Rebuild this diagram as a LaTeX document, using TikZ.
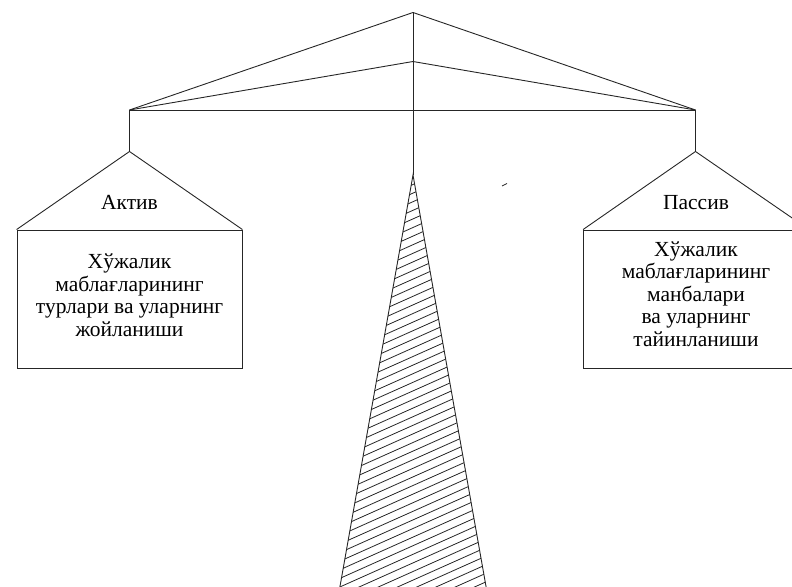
\documentclass[tikz,border=0pt]{standalone}
\usepackage{fontspec}
\setmainfont{Liberation Serif}
\begin{document}
\begin{tikzpicture}[x=1pt,y=-1pt,
  wire/.style={draw=black!85,line width=0.9pt},
  hatch/.style={draw=black!85,line width=0.8pt},
  boxnode/.style={wire,rectangle,minimum width=225pt,minimum height=138pt,inner sep=0pt,
    align=center,font=\fontsize{21.5}{22.5}\selectfont},
  txt/.style={inner sep=0pt,align=center,font=\fontsize{21.5}{22.5}\selectfont},
  label/.style={inner sep=0pt,font=\fontsize{21.5}{22.5}\selectfont}]
\useasboundingbox (0,0) rectangle (792,586);

% beam and its braces
\coordinate (top) at (413,12.5);
\coordinate (mid) at (413,61.5);
\coordinate (lend) at (129.5,110);
\coordinate (rend) at (695.5,110);
\coordinate (tip) at (413,175);
\coordinate (bl) at (339,592);
\coordinate (br) at (487,592);

\draw[wire] (lend) -- (top) -- (rend);
\draw[wire] (lend) -- (mid) -- (rend);
\draw[wire] (lend) -- (rend);
\draw[wire] (top) -- (tip);

% hanging pans
\coordinate (lroof) at (129.5,151.5);
\coordinate (rroof) at (695.5,151.5);
\node[boxnode] (lbox) at (129.5,299) {};
\node[boxnode] (rbox) at (696,299) {};
\node[txt] (ltext) at (129.5,295) {Хўжалик\\маблағларининг\\турлари ва уларнинг\\жойланиши};
\node[txt] (rtext) at (696,294) {Хўжалик\\маблағларининг\\манбалари\\ва уларнинг\\тайинланиши};
\draw[wire] (lend) -- (lroof);
\draw[wire] (rend) -- (rroof);
\draw[wire] (lbox.north west) -- (lroof) -- (lbox.north east);
\draw[wire] (rbox.north west) -- (rroof) -- (rbox.north east);
\node[label] (aktiv) at (129.5,202.5) {Актив};
\node[label] (passiv) at (696,202.5) {Пассив};

% hatched stand
\begin{scope}
  \clip (tip) -- (bl) -- (br) -- cycle;
  \foreach \k in {0,...,62}
    \draw[hatch] (330,170+8.6*\k) -- ++(170,-76);
\end{scope}
\draw[wire] (bl) -- (tip) -- (br);

% small stroke
\coordinate (s1) at (502,186);
\coordinate (s2) at (507,183.5);
\draw[wire,line width=0.8pt] (s1) -- (s2);
\end{tikzpicture}
\end{document}
